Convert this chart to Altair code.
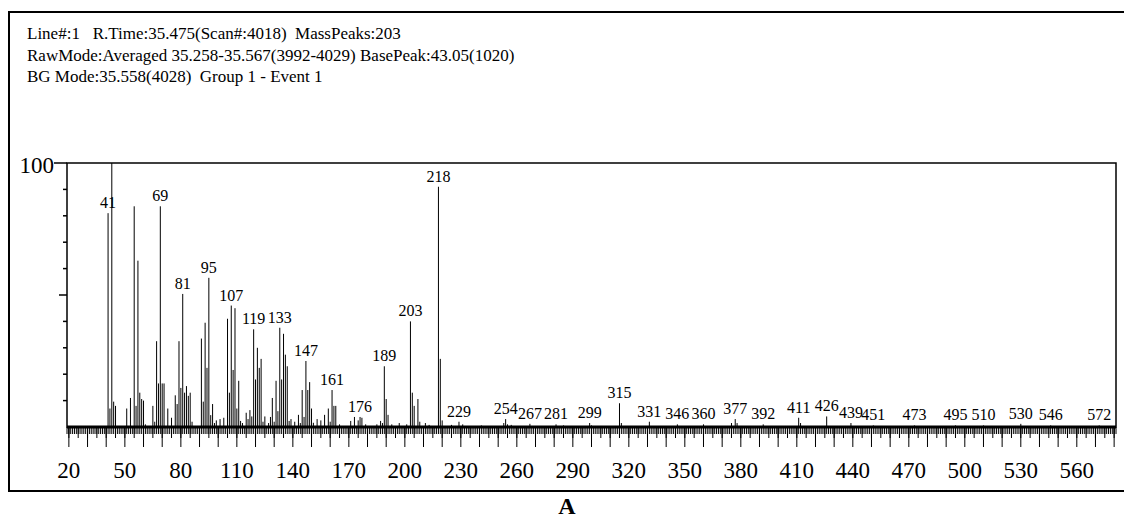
import altair as alt
import pandas as pd

# ---------------- data ----------------
mz = [41, 42, 43, 44, 45, 51, 53, 55, 56, 57, 58, 59, 60, 61, 65, 66, 67, 68, 69, 70,
      71, 73, 75, 77, 78, 79, 80, 81, 82, 83, 84, 85, 86, 91, 92, 93, 94, 95, 96, 97,
      98, 99, 101, 103, 105, 106, 107, 108, 109, 110, 111, 112, 113, 115, 116, 117, 118, 119, 120, 121,
      122, 123, 124, 125, 127, 128, 129, 130, 131, 132, 133, 134, 135, 136, 137, 138, 139, 141, 143, 144,
      145, 146, 147, 148, 149, 150, 151, 153, 155, 157, 159, 160, 161, 162, 163, 165, 171, 173, 175, 176,
      177, 179, 185, 187, 188, 189, 190, 191, 193, 197, 201, 203, 204, 205, 207, 208, 211, 213, 218, 219,
      220, 225, 229, 231, 241, 253, 254, 255, 257, 267, 281, 285, 299, 300, 315, 316, 331, 346, 360, 375,
      377, 378, 392, 411, 412, 426, 439, 451, 473, 495, 510, 530, 546, 572]
intensity = [81, 7, 100, 9.6, 8, 7, 11, 83.6, 8, 63, 13, 10.6, 10, 1, 8, 2, 32.5, 16.5, 83.6, 16.5,
             16.5, 7, 3.5, 12, 8.7, 32.5, 14.8, 50.4, 13, 15.5, 11.8, 13, 2, 33.5, 9.6, 39.5, 22.4, 56.5, 4.5, 8.7,
             1.5, 2.5, 3, 3.5, 41, 13, 46, 21.6, 45, 7, 17.5, 2.3, 1.5, 5.4, 3, 6.4, 4, 37, 18, 30,
             22.4, 25.8, 2, 4, 1.5, 3.8, 11, 2, 17.5, 6, 37.6, 18, 35.3, 27.4, 23, 2.3, 3, 2, 4.6, 1.5,
             14, 3.8, 25, 14, 17, 7, 1.6, 3, 2.5, 4.6, 7, 2, 14, 8, 8, 1, 2.3, 3.8, 2.5, 3.8,
             3.5, 1, 1, 2.3, 1.5, 23, 10.6, 4.6, 1, 1.5, 1, 40, 13, 8, 10.6, 2, 1.5, 0.8, 91, 25.8,
             2.5, 0.8, 2, 1, 0.6, 1.5, 3, 1, 0.8, 1.2, 1, 0.6, 1.5, 0.6, 9, 1.5, 2, 1, 1, 1.5,
             3, 1.5, 1, 3.5, 1.5, 4, 1.5, 0.6, 0.6, 0.6, 0.6, 1.2, 0.6, 0.6]

label_mz = [41, 69, 81, 95, 107, 119, 133, 147, 161, 176, 189, 203, 218, 229, 254, 267, 281,
            299, 315, 331, 346, 360, 377, 392, 411, 426, 439, 451, 473, 495, 510, 530, 546, 572]

x_tick_labels = list(range(20, 561, 30))
y_minor_ticks = [10, 20, 30, 40, 60, 70, 80, 90]
y_mid_ticks = [50]
y_top_tick = [100]

NB = "\u00a0"
header_lines = [
    "Line#:1" + NB * 2 + " R.Time:35.475(Scan#:4018)" + NB + " MassPeaks:203",
    "RawMode:Averaged 35.258-35.567(3992-4029) BasePeak:43.05(1020)",
    "BG Mode:35.558(4028)" + NB + " Group 1 - Event 1",
]
caption = "A"

# ---------------- tables ----------------
peaks = pd.DataFrame({"mz": mz, "rel": intensity})
lookup = dict(zip(mz, intensity))
labels = pd.DataFrame({"mz": label_mz,
                       "rel": [lookup[m] for m in label_mz],
                       "txt": [str(m) for m in label_mz]})
xlab = pd.DataFrame({"v": x_tick_labels, "txt": [str(v) for v in x_tick_labels]})
minor_x = pd.DataFrame({"t": list(range(19, 582))})
mid_x = pd.DataFrame({"t": list(range(20, 581, 5))})
major_x = pd.DataFrame({"t": list(range(20, 581, 10))})
dummy = pd.DataFrame({"a": [0]})

W, H = 1049, 264
FONT = "Liberation Serif"

xscale = alt.Scale(domain=[19, 581], nice=False, zero=False)
yscale = alt.Scale(domain=[0, 100], nice=False)

peak_rules = alt.Chart(peaks).mark_rule(color="black", strokeWidth=1).encode(
    x=alt.X("mz:Q", scale=xscale, axis=None),
    y=alt.Y("rel:Q", scale=yscale, axis=None),
    y2=alt.datum(0),
)

peak_text = alt.Chart(labels).mark_text(font=FONT, fontSize=16, color="black",
                                        baseline="alphabetic", align="center", dy=-5).encode(
    x=alt.X("mz:Q", scale=xscale, axis=None),
    y=alt.Y("rel:Q", scale=yscale, axis=None),
    text="txt:N",
)

xlabels = alt.Chart(xlab).mark_text(font=FONT, fontSize=23, color="black",
                                    baseline="alphabetic", align="center").encode(
    x=alt.X("v:Q", scale=xscale, axis=None),
    y=alt.value(H + 51),
    text="txt:N",
)

baseline_rule = alt.Chart(dummy).mark_rule(color="black", strokeWidth=3).encode(
    x=alt.value(0), x2=alt.value(W), y=alt.value(H),
)

def xticks(df, length):
    return alt.Chart(df).mark_rule(color="black", strokeWidth=1).encode(
        x=alt.X("t:Q", scale=xscale, axis=None),
        y=alt.value(H),
        y2=alt.value(H + length),
    )

def yticks(vals, length):
    return alt.Chart(pd.DataFrame({"v": vals})).mark_rule(color="black", strokeWidth=1.5).encode(
        y=alt.Y("v:Q", scale=yscale, axis=None),
        x=alt.value(-length),
        x2=alt.value(0),
    )

label100 = alt.Chart(dummy).mark_text(font=FONT, fontSize=23, color="black",
                                      align="right", baseline="middle", dy=3).encode(
    y=alt.datum(100, scale=yscale),
    x=alt.value(-13),
    text=alt.value("100"),
)

frame = alt.Chart(dummy).mark_rect(fillOpacity=0, stroke="black", strokeWidth=2).encode(
    x=alt.value(-58), x2=alt.value(W + 100),
    y=alt.value(-151), y2=alt.value(328),
)

headers = []
for i, line in enumerate(header_lines):
    headers.append(
        alt.Chart(dummy).mark_text(font=FONT, fontSize=17, color="black",
                                   align="left", baseline="alphabetic").encode(
            x=alt.value(-40), y=alt.value(-124 + 21.5 * i), text=alt.value(line))
    )

cap = alt.Chart(dummy).mark_text(font=FONT, fontSize=24, fontWeight="bold", color="black",
                                 align="center", baseline="alphabetic").encode(
    x=alt.value(500), y=alt.value(351), text=alt.value(caption))

chart = alt.layer(
    frame,
    xticks(minor_x, 7), xticks(mid_x, 11), xticks(major_x, 20),
    yticks(y_minor_ticks, 4), yticks(y_mid_ticks, 8), yticks(y_top_tick, 13),
    baseline_rule, peak_rules, peak_text, xlabels, label100, cap, *headers,
).properties(
    width=W, height=H,
    background="white",
    autosize=alt.AutoSizeParams(type="none"),
    padding={"left": 59, "top": 155, "right": 8, "bottom": 92},
).configure_view(
    stroke="black", strokeWidth=1.5
)

chart.save("out.html", embed_options={"renderer": "svg", "actions": False})
